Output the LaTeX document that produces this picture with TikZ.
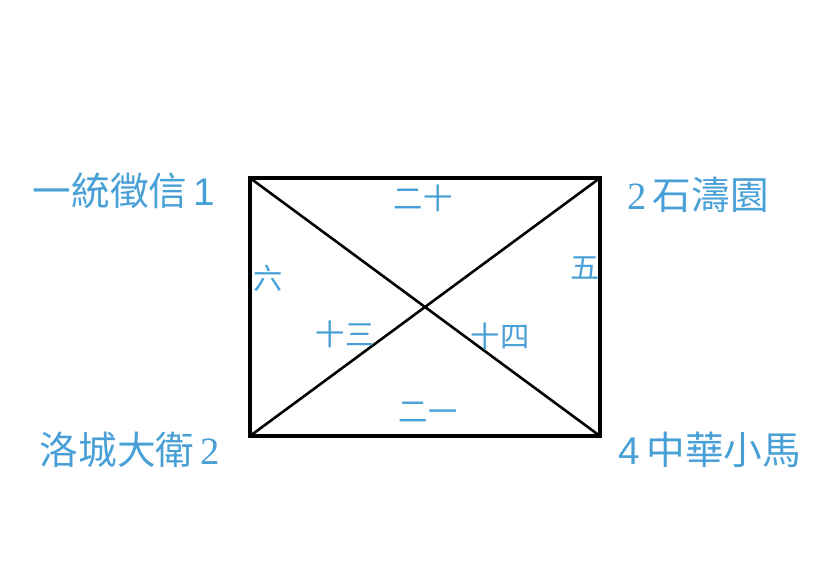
\documentclass[tikz,border=0pt]{standalone}
\usepackage{fontspec}
\setmainfont{Liberation Serif}
\newfontfamily\cjk{Noto Sans CJK TC}
\newfontfamily\digsans{Liberation Sans}
\usepackage{tikz}
\definecolor{labelblue}{RGB}{72,160,214}
\tikzset{
	corner/.style={text=labelblue, font=\fontsize{33}{33}\selectfont, inner sep=0pt},
	edgelab/.style={text=labelblue, font=\cjk\fontsize{25}{25}\selectfont, inner sep=0pt},
	side/.style={line width=2.7pt, line cap=rect, color=black},
	cross/.style={line width=2.2pt, color=black}
}

\begin{document}
\begin{tikzpicture}[x=0.03cm, y=-0.03cm]
			%%%%% START %%%%%
			
			\useasboundingbox (0, 0) rectangle (834, 563);
			
			\coordinate (tl) at (250, 178);
			\coordinate (tr) at (600, 178);
			\coordinate (bl) at (250, 436);
			\coordinate (br) at (600, 436);
			
			\draw[side] (tl) -- (tr) -- (br) -- (bl) -- cycle;
			\draw[cross] (tl) -- (br);
			\draw[cross] (bl) -- (tr);
			
			\node[corner] (tongyi) at (124, 191) {{\cjk 一統徵信}\,{\digsans 1}};
			\node[corner] (shitao) at (698, 195) {2\,{\cjk 石濤園}};
			\node[corner] (luocheng) at (130, 450) {{\cjk 洛城大衛}\,2};
			\node[corner] (zhonghua) at (710, 450) {{\digsans 4}\,{\cjk 中華小馬}};
			
			\node[edgelab] (top) at (423, 198) {二十};
			\node[edgelab] (left) at (268, 278) {六};
			\node[edgelab] (right) at (585, 268) {五};
			\node[edgelab] (midl) at (345, 334) {十三};
			\node[edgelab] (midr) at (500, 336) {十四};
			\node[edgelab] (bottom) at (428, 412) {二一};
			
			%%%%% END %%%%%
		\end{tikzpicture}
\end{document}
